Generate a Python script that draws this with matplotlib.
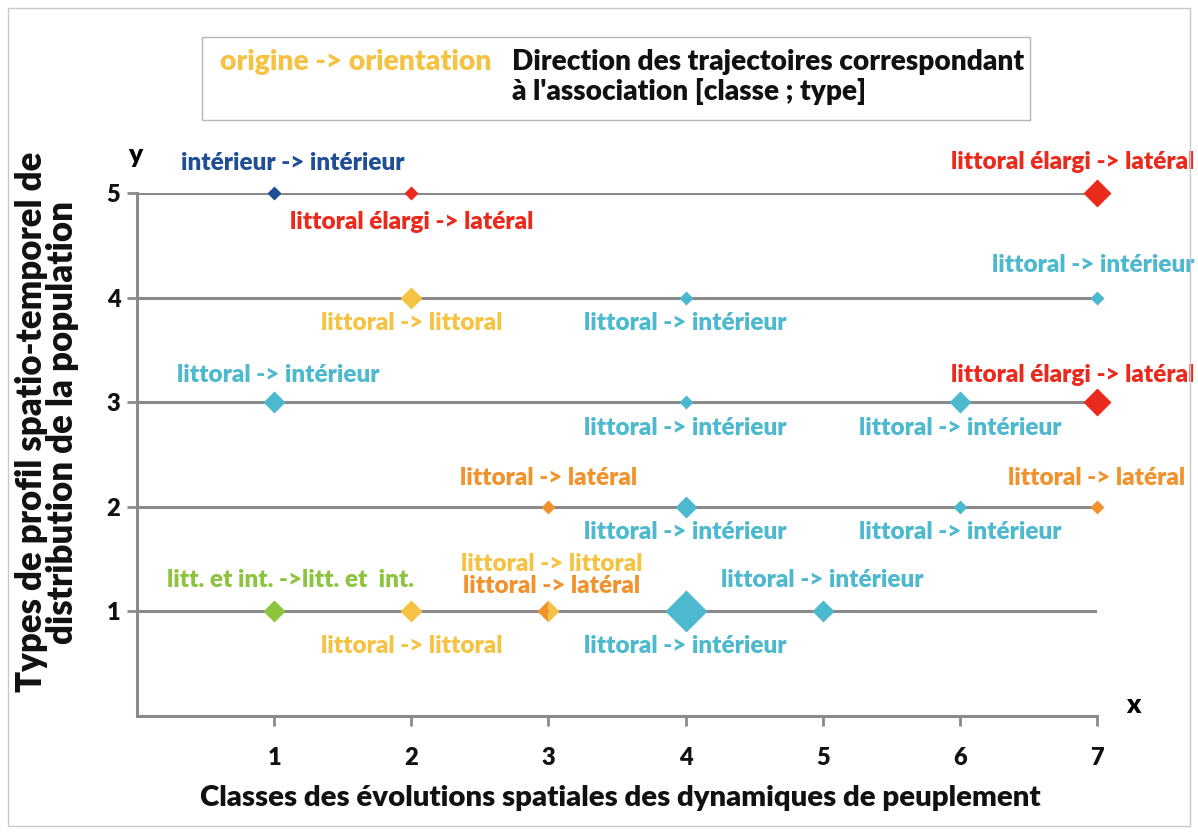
import matplotlib.pyplot as plt
from matplotlib.patches import Rectangle

plt.rcParams['font.family'] = ['Lato', 'DejaVu Sans']
plt.rcParams['font.weight'] = 'bold'

# Données : classe (x), type (y), direction de trajectoire, poids du point
classes = [1, 2, 7, 2, 4, 7, 1, 4, 6, 7, 3, 4, 6, 7, 1, 2, 3, 4, 5]
types_ = [5, 5, 5, 4, 4, 4, 3, 3, 3, 3, 2, 2, 2, 2, 1, 1, 1, 1, 1]
directions = ['int', 'ela', 'ela', 'lit', 'l-i', 'l-i', 'l-i', 'l-i', 'l-i', 'ela',
              'lat', 'l-i', 'l-i', 'lat', 'li2', 'lit', 'lat', 'l-i', 'l-i']
poids = [1, 1, 3, 2, 1, 1, 2, 1, 2, 3, 1, 2, 1, 1, 2, 2, 2, 4, 2]
# point mixte (classe 3, type 1) : deuxième direction
mixte = {16: 'lit'}

libelles = {
    'int': "intérieur -> intérieur",
    'ela': "littoral élargi -> latéral",
    'lit': "littoral -> littoral",
    'l-i': "littoral -> intérieur",
    'lat': "littoral -> latéral",
    'li2': "litt. et int. ->litt. et  int.",
}
couleurs = {
    'int': '#1f4e96', 'ela': '#ea2a1c', 'lit': '#f6c241',
    'l-i': '#4cb9cf', 'lat': '#f1922c', 'li2': '#8dc43e',
}
taille = {1: 7.5, 2: 11.5, 3: 14, 4: 21}

# décalage des étiquettes (pixels) par rapport au point
decalages = [(19, 30), (0, -29), (-24, 31), (0, -25), (0, -25), (-4, 33),
             (4, 27), (0, -26), (0, -26), (-24, 27),
             (0, 29), (0, -25), (0, -25), (0, 29),
             (16, 31), (0, -35), (3, 25), (0, -35), (0, 31)]

fig = plt.figure(figsize=(11.98, 8.32), dpi=100)
ax = fig.add_axes([137 / 1198, 1 - 716 / 832, 960 / 1198, 523 / 832])

gris = '#8a8a8a'
for y in range(1, 6):
    ax.plot([0, 7], [y, y], color=gris, lw=2.2, zorder=1, solid_capstyle='butt')

fs = 17.5
for i, (x, y, d, p) in enumerate(zip(classes, types_, directions, poids)):
    ms = taille[p]
    if i in mixte:
        ax.plot(x, y, marker='D', ms=ms, color=couleurs[d], fillstyle='left',
                markerfacecoloralt=couleurs[mixte[i]], mec='none', zorder=3, clip_on=False)
    else:
        ax.plot(x, y, marker='D', ms=ms, color=couleurs[d], mec='none', zorder=3, clip_on=False)
    dx, dy = decalages[i]
    ax.annotate(libelles[d], (x, y), xytext=(dx * 0.72, dy * 0.72), textcoords='offset points',
                ha='center', va='center', color=couleurs[d], fontsize=fs, fontweight='heavy',
                annotation_clip=False)
    if i in mixte:
        d2 = mixte[i]
        ax.annotate(libelles[d2], (x, y), xytext=(3 * 0.72, 47 * 0.72), textcoords='offset points',
                    ha='center', va='center', color=couleurs[d2], fontsize=fs, fontweight='heavy',
                    annotation_clip=False)

ax.set_xlim(0, 7)
ax.set_ylim(0, 5)
ax.set_xticks(range(1, 8))
ax.set_yticks(range(1, 6))
for s in ['top', 'right']:
    ax.spines[s].set_visible(False)
for s in ['left', 'bottom']:
    ax.spines[s].set_color(gris)
    ax.spines[s].set_linewidth(2.2)
ax.tick_params(colors=gris, width=2, length=7, labelcolor='#111111', labelsize=17)
ax.tick_params(axis='x', pad=15)
ax.tick_params(axis='y', pad=5)
for lab in ax.get_xticklabels() + ax.get_yticklabels():
    lab.set_fontweight('heavy')

fig.text(135 / 1198, 1 - 155 / 832, 'y', fontsize=19, fontweight='heavy', ha='center', va='center')
fig.text(1133 / 1198, 1 - 705 / 832, 'x', fontsize=19, fontweight='heavy', ha='center', va='center')

fig.text(620 / 1198, 1 - 798 / 832, "Classes des évolutions spatiales des dynamiques de peuplement",
         fontsize=21.2, fontweight='heavy', ha='center', va='center', color='#111111')
fig.text(47 / 1198, 1 - 422 / 832, "Types de profil spatio-temporel de\ndistribution de la population",
         fontsize=25, fontweight='heavy', ha='center', va='center', rotation=90,
         linespacing=0.95, color='#111111')

# cadre de légende
fig.patches.append(Rectangle((202 / 1198, 1 - 120 / 832), 828 / 1198, 83 / 832,
                             transform=fig.transFigure, fill=False, ec='#b5b5b5', lw=1))
fig.text(220 / 1198, 1 - 62 / 832, "origine -> orientation", color='#f6c241',
         fontsize=20.3, fontweight='heavy', ha='left', va='center')
fig.text(512 / 1198, 1 - 77 / 832, "Direction des trajectoires correspondant\nà l'association [classe ; type]",
         color='#111111', fontsize=20.2, fontweight='heavy', ha='left', va='center', linespacing=1.1)

# cadre extérieur
fig.patches.append(Rectangle((8 / 1198, 6 / 832), 1182 / 1198, 818 / 832,
                             transform=fig.transFigure, fill=False, ec='#c8c8c8', lw=1))

fig.savefig('out.png', dpi=100)
